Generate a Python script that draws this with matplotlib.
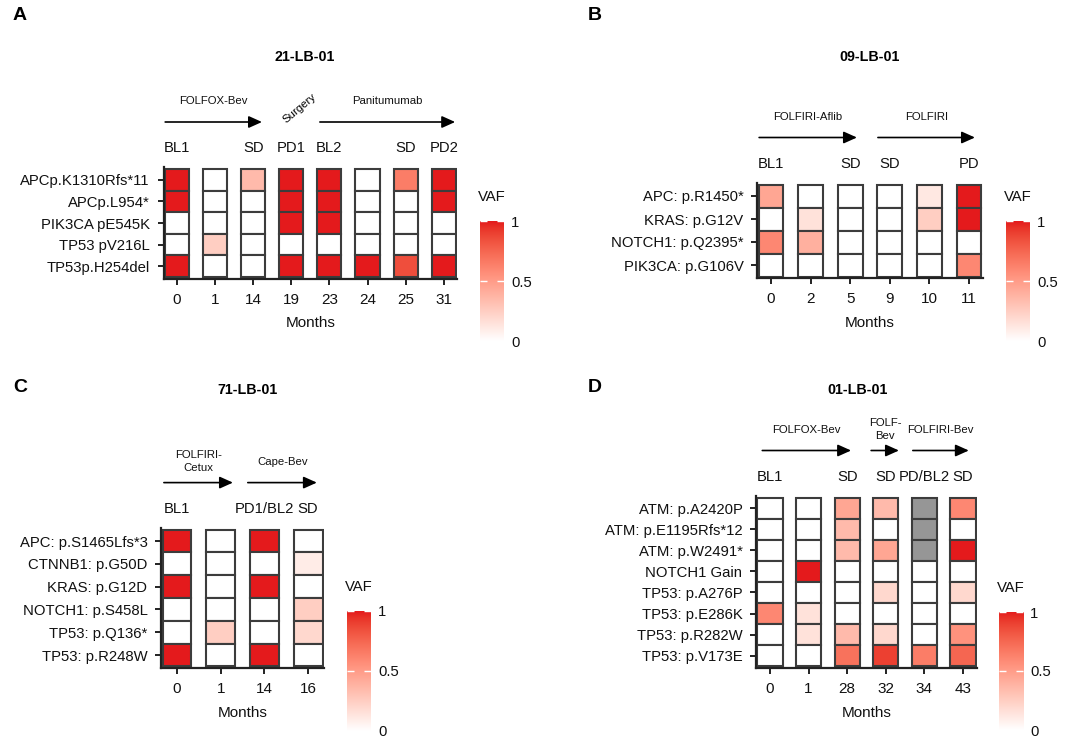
import numpy as np
import matplotlib
matplotlib.use('Agg')
import matplotlib.pyplot as plt
from matplotlib.colors import LinearSegmentedColormap, to_rgb
from matplotlib.patches import Rectangle
from matplotlib.transforms import offset_copy

plt.rcParams['font.family'] = ['Liberation Sans', 'DejaVu Sans']

# ---- data -------------------------------------------------------------
nan = np.nan

a_title = '21-LB-01'
a_months = [0, 1, 14, 19, 23, 24, 25, 31]
a_status = ['BL1', '', 'SD', 'PD1', 'BL2', '', 'SD', 'PD2']
a_genes = ['APCp.K1310Rfs*11', 'APCp.L954*', 'PIK3CA pE545K', 'TP53 pV216L', 'TP53p.H254del']
a_vaf = [[1, 0, 0.35, 1, 1, 0, 0.65, 1],
         [1, 0, 0, 1, 1, 0, 0, 1],
         [0, 0, 0, 1, 1, 0, 0, 0],
         [0, 0.25, 0, 0, 0, 0, 0, 0],
         [1, 0, 0, 1, 1, 1, 0.85, 1]]
a_treat = [('FOLFOX-Bev', -0.31, 2.23), ('Panitumumab', 3.75, 7.3)]

b_title = '09-LB-01'
b_months = [0, 2, 5, 9, 10, 11]
b_status = ['BL1', '', 'SD', 'SD', '', 'PD']
b_genes = ['APC: p.R1450*', 'KRAS: p.G12V', 'NOTCH1: p.Q2395*', 'PIK3CA: p.G106V']
b_vaf = [[0.45, 0, 0, 0, 0.12, 1],
         [0, 0.15, 0, 0, 0.25, 1],
         [0.6, 0.4, 0, 0, 0, 0],
         [0, 0, 0, 0, 0, 0.6]]
b_treat = [('FOLFIRI-Aflib', -0.3, 2.17), ('FOLFIRI', 2.7, 5.15)]

c_title = '71-LB-01'
c_months = [0, 1, 14, 16]
c_status = ['BL1', '', 'PD1/BL2', 'SD']
c_genes = ['APC: p.S1465Lfs*3', 'CTNNB1: p.G50D', 'KRAS: p.G12D',
           'NOTCH1: p.S458L', 'TP53: p.Q136*', 'TP53: p.R248W']
c_vaf = [[1, 0, 1, 0],
         [0, 0, 0, 0.1],
         [1, 0, 1, 0],
         [0, 0, 0, 0.25],
         [0, 0.25, 0, 0.2],
         [1, 0, 1, 0]]
c_treat = [('FOLFIRI-\nCetux', -0.3, 1.28), ('Cape-Bev', 1.62, 3.2)]

d_title = '01-LB-01'
d_months = [0, 1, 28, 32, 34, 43]
d_status = ['BL1', '', 'SD', 'SD', 'PD/BL2', 'SD']
d_genes = ['ATM: p.A2420P', 'ATM: p.E1195Rfs*12', 'ATM: p.W2491*', 'NOTCH1 Gain',
           'TP53: p.A276P', 'TP53: p.E286K', 'TP53: p.R282W', 'TP53: p.V173E']
d_vaf = [[0, 0, 0.45, 0.35, nan, 0.6],
         [0, 0, 0.35, 0, nan, 0],
         [0, 0, 0.35, 0.45, nan, 1],
         [0, 1, 0, 0, 0, 0],
         [0, 0, 0, 0.2, 0, 0.2],
         [0.6, 0.15, 0, 0, 0, 0],
         [0, 0.15, 0.35, 0.2, 0, 0.55],
         [0, 0, 0.7, 0.9, 0.65, 0.75]]
d_treat = [('FOLFOX-Bev', -0.2, 2.1), ('FOLF-\nBev', 2.62, 3.34), ('FOLFIRI-Bev', 3.7, 5.15)]


# ---- white -> red gradient interpolated in Lab (like ggplot) ----------
def _to_lab(c):
    c = np.array(to_rgb(c))
    c = np.where(c > 0.04045, ((c + 0.055) / 1.055) ** 2.4, c / 12.92)
    M = np.array([[0.4124, 0.3576, 0.1805], [0.2126, 0.7152, 0.0722], [0.0193, 0.1192, 0.9505]])
    xyz = M @ c / np.array([0.95047, 1.0, 1.08883])
    f = np.where(xyz > 0.008856, np.cbrt(xyz), 7.787 * xyz + 16 / 116)
    return np.array([116 * f[1] - 16, 500 * (f[0] - f[1]), 200 * (f[1] - f[2])])


def _from_lab(lab):
    fy = (lab[0] + 16) / 116
    f = np.array([fy + lab[1] / 500, fy, fy - lab[2] / 200])
    xyz = np.where(f ** 3 > 0.008856, f ** 3, (f - 16 / 116) / 7.787) * np.array([0.95047, 1.0, 1.08883])
    Mi = np.array([[3.2406, -1.5372, -0.4986], [-0.9689, 1.8758, 0.0415], [0.0557, -0.2040, 1.0570]])
    c = Mi @ xyz
    c = np.where(c > 0.0031308, 1.055 * np.clip(c, 0, None) ** (1 / 2.4) - 0.055, 12.92 * c)
    return np.clip(c, 0, 1)


lo, hi = _to_lab('#FFFFFF'), _to_lab('#E41A1C')
stops = [_from_lab(lo + (hi - lo) * t) for t in np.linspace(0, 1, 21)]
cmap = LinearSegmentedColormap.from_list('vaf', stops)
NA_COLOR = '#969696'

# ---- figure -----------------------------------------------------------
W, H = 1080, 742
fig = plt.figure(figsize=(W / 100, H / 100), dpi=100)


def px_axes(left, top, right, bottom):
    return fig.add_axes([left / W, 1 - bottom / H, (right - left) / W, (bottom - top) / H])


def draw_panel(genes, months, status, vaf, treat, x0, dx, top, rowh, w, cb):
    nr, nc = len(genes), len(months)
    m = 0.08
    xl = (-w / 2 - 0.03, nc - 1 + w / 2 + 0.03)
    yl = (nr - 0.5 + m, -0.5 - m)
    ax = px_axes(x0 + xl[0] * dx, top - m * rowh, x0 + xl[1] * dx, top + (nr + m) * rowh)
    ax.set_xlim(xl)
    ax.set_ylim(yl)

    vals = np.array(vaf, dtype=float)
    for j in range(nc):
        for i in range(nr):
            v = vals[i, j]
            fc = NA_COLOR if np.isnan(v) else cmap(v)
            ax.add_patch(Rectangle((j - w / 2, i - 0.5), w, 1, facecolor=fc,
                                   edgecolor='#3c3c3c', lw=1.5))

    ax.set_xticks(range(nc))
    ax.set_xticklabels([str(mo) for mo in months])
    ax.set_yticks(range(nr))
    ax.set_yticklabels(genes)
    ax.tick_params(axis='both', length=4, width=1.4, color='#222222',
                   labelsize=11, labelcolor='#111111')
    ax.tick_params(axis='x', pad=6)
    ax.tick_params(axis='y', pad=6, labelsize=10.7)
    for s in ['top', 'right']:
        ax.spines[s].set_visible(False)
    for s in ['left', 'bottom']:
        ax.spines[s].set_linewidth(1.6)
        ax.spines[s].set_color('#222222')
    ax.set_xlabel('Months', fontsize=11, labelpad=7, color='#111111')

    # response labels above each sample
    t_stat = offset_copy(ax.transData, fig=fig, x=0, y=21, units='dots')
    for j, s in enumerate(status):
        ax.text(j, -0.5, s, transform=t_stat, ha='center', va='center',
                fontsize=10.7, color='#111111')

    # treatment arrows
    t_arr = offset_copy(ax.transData, fig=fig, x=0, y=47, units='dots')
    t_lab = offset_copy(ax.transData, fig=fig, x=0, y=68, units='dots')
    for lab, a, b in treat:
        ax.annotate('', xy=(b, -0.5), xycoords=t_arr, xytext=(a, -0.5), textcoords=t_arr,
                    annotation_clip=False,
                    arrowprops=dict(arrowstyle='-|>,head_length=0.8,head_width=0.36',
                                    color='black', lw=1.2, shrinkA=0, shrinkB=0))
        ax.text((a + b) / 2, -0.5, lab, transform=t_lab, ha='center', va='center',
                fontsize=8.2, linespacing=1.3, color='#111111')

    # colour bar
    cl, ct, cbm = cb
    cax = px_axes(cl, ct, cl + 24, cbm)
    grad = np.linspace(0, 1, 256).reshape(-1, 1)
    cax.imshow(grad, aspect='auto', cmap=cmap, origin='lower', extent=[0, 1, 0, 1])
    cax.set_xticks([])
    cax.set_yticks([0, 0.5, 1])
    cax.set_yticklabels(['0', '0.5', '1'])
    cax.tick_params(axis='y', direction='in', length=5, width=1, color='white',
                    left=True, right=True, labelleft=False, labelright=True,
                    pad=5, labelsize=10.7, labelcolor='#111111')
    for s in cax.spines.values():
        s.set_visible(False)
    cax.annotate('VAF', xy=(0.5, 1), xycoords='axes fraction', xytext=(0, 24),
                 textcoords='offset pixels', ha='center', va='center', fontsize=10.7,
                 color='#111111')
    return ax


ax_a = draw_panel(a_genes, a_months, a_status, a_vaf, a_treat,
                  177, 38.1, 169, 21.6, 0.63, (480, 221, 341))
ax_a.text(3.23, -0.5, 'Surgery', rotation=40, ha='center', va='center', fontsize=8.2,
          transform=offset_copy(ax_a.transData, fig=fig, x=0, y=61, units='dots'))
draw_panel(b_genes, b_months, b_status, b_vaf, b_treat,
           771, 39.6, 184.5, 23.0, 0.63, (1006, 221, 341))
draw_panel(c_genes, c_months, c_status, c_vaf, c_treat,
           177, 43.7, 529.6, 22.8, 0.66, (347, 611, 731))
draw_panel(d_genes, d_months, d_status, d_vaf, d_treat,
           770, 38.6, 497.5, 21.1, 0.65, (999, 612, 730))

# titles and panel letters
for t, x, y in [(a_title, 305, 57), (b_title, 870, 57), (c_title, 247, 390), (d_title, 858, 390)]:
    fig.text(x / W, 1 - y / H, t, ha='center', va='center', fontsize=10.3, fontweight='bold')
for t, x, y in [('A', 20, 16), ('B', 595, 16), ('C', 20, 387), ('D', 595, 387)]:
    fig.text(x / W, 1 - y / H, t, ha='center', va='center', fontsize=14, fontweight='bold')

fig.savefig('out.png', dpi=100)
